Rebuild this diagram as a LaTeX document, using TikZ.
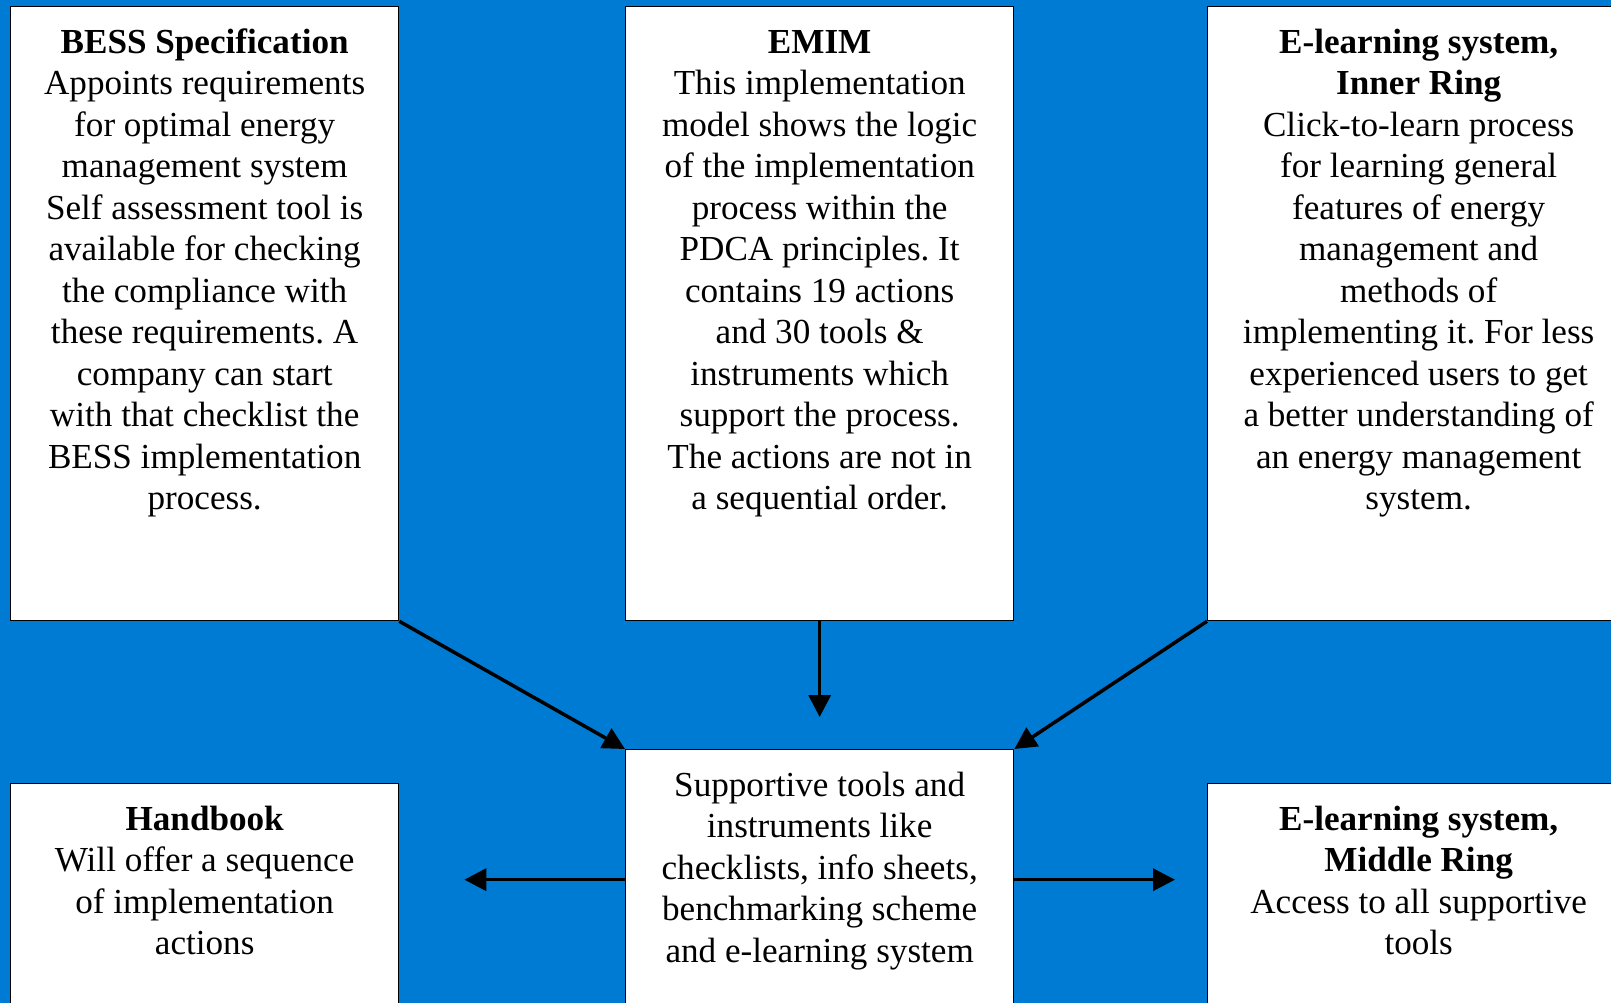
\documentclass[tikz,border=0pt]{standalone}
\usepackage{fontspec}
\setmainfont{Liberation Serif}
\usepackage{xcolor}
\usetikzlibrary{arrows.meta, positioning}
\definecolor{bgblue}{RGB}{0,123,212}
\frenchspacing

\tikzset{
  box/.style={draw=black, line width=0.8pt, fill=white, anchor=north west,
    minimum width=7.76cm, inner sep=0pt},
  boxtext/.style={align=center, inner sep=0pt, font=\fontsize{20}{23.6}\selectfont},
  link/.style={-{Triangle[length=4.4mm,width=4.4mm]}, line width=2pt},
}

\begin{document}
\begin{tikzpicture}[x=0.02cm, y=-0.02cm]
    % Background
    \useasboundingbox (0,0) rectangle (1611,1003);
    \clip (0,0) rectangle (1611,1003);
    \fill[bgblue] (0,0) rectangle (1611,1003);

    % Top row of boxes
    \node[box, minimum height=12.28cm] (bess) at (10,6) {};
    \node[box, minimum height=12.28cm] (emim) at (625,6) {};
    \node[box, minimum height=12.28cm, minimum width=8.44cm] (elinner) at (1207,6) {};

    % Bottom row of boxes
    \node[box, minimum height=5.2cm] (handbook) at (10,783) {};
    \node[box, minimum height=5.2cm] (support) at (625,749) {};
    \node[box, minimum height=5.2cm, minimum width=8.44cm] (elmiddle) at (1207,783) {};

    % Texts of the boxes
    \node[boxtext, below=3.6mm of bess.north] (besstext) {\strut\textbf{BESS Specification}\\
      Appoints requirements\\ for optimal energy\\ management system\\
      Self assessment tool is\\ available for checking\\ the compliance with\\
      these requirements. A\\ company can start\\ with that checklist the\\
      BESS implementation\\ process.};
    \node[boxtext, below=3.6mm of emim.north] (emimtext) {\strut\textbf{EMIM}\\
      This implementation\\ model shows the logic\\ of the implementation\\
      process within the\\ PDCA principles. It\\ contains 19 actions\\
      and 30 tools \&\\ instruments which\\ support the process.\\
      The actions are not in\\ a sequential order.};
    \node[boxtext, below=3.6mm of elinner.north] (elinnertext) {\strut\textbf{E-learning system,}\\
      \textbf{Inner Ring}\\ Click-to-learn process\\ for learning general\\
      features of energy\\ management and\\ methods of\\
      implementing it. For less\\ experienced users to get\\
      a better understanding of\\ an energy management\\ system.};
    \node[boxtext, below=3.6mm of handbook.north] (handbooktext) {\strut\textbf{Handbook}\\
      Will offer a sequence\\ of implementation\\ actions};
    \node[boxtext, below=3.6mm of support.north] (supporttext) {\strut Supportive tools and\\
      instruments like\\ checklists, info sheets,\\ benchmarking scheme\\
      and e-learning system};
    \node[boxtext, below=3.6mm of elmiddle.north] (elmiddletext) {\strut\textbf{E-learning system,}\\
      \textbf{Middle Ring}\\ Access to all supportive\\ tools};

    % Arrows
    \draw[link] (bess.south east) -- (support.north west);
    \draw[link, shorten >=6.4mm] (emim.south) -- (support.north);
    \draw[link] (elinner.south west) -- (support.north east);
    \draw[link, shorten >=13mm] (support.west) -- (support.west -| handbook.east);
    \draw[link, shorten >=6.4mm] (support.east) -- (support.east -| elmiddle.west);
\end{tikzpicture}
\end{document}
